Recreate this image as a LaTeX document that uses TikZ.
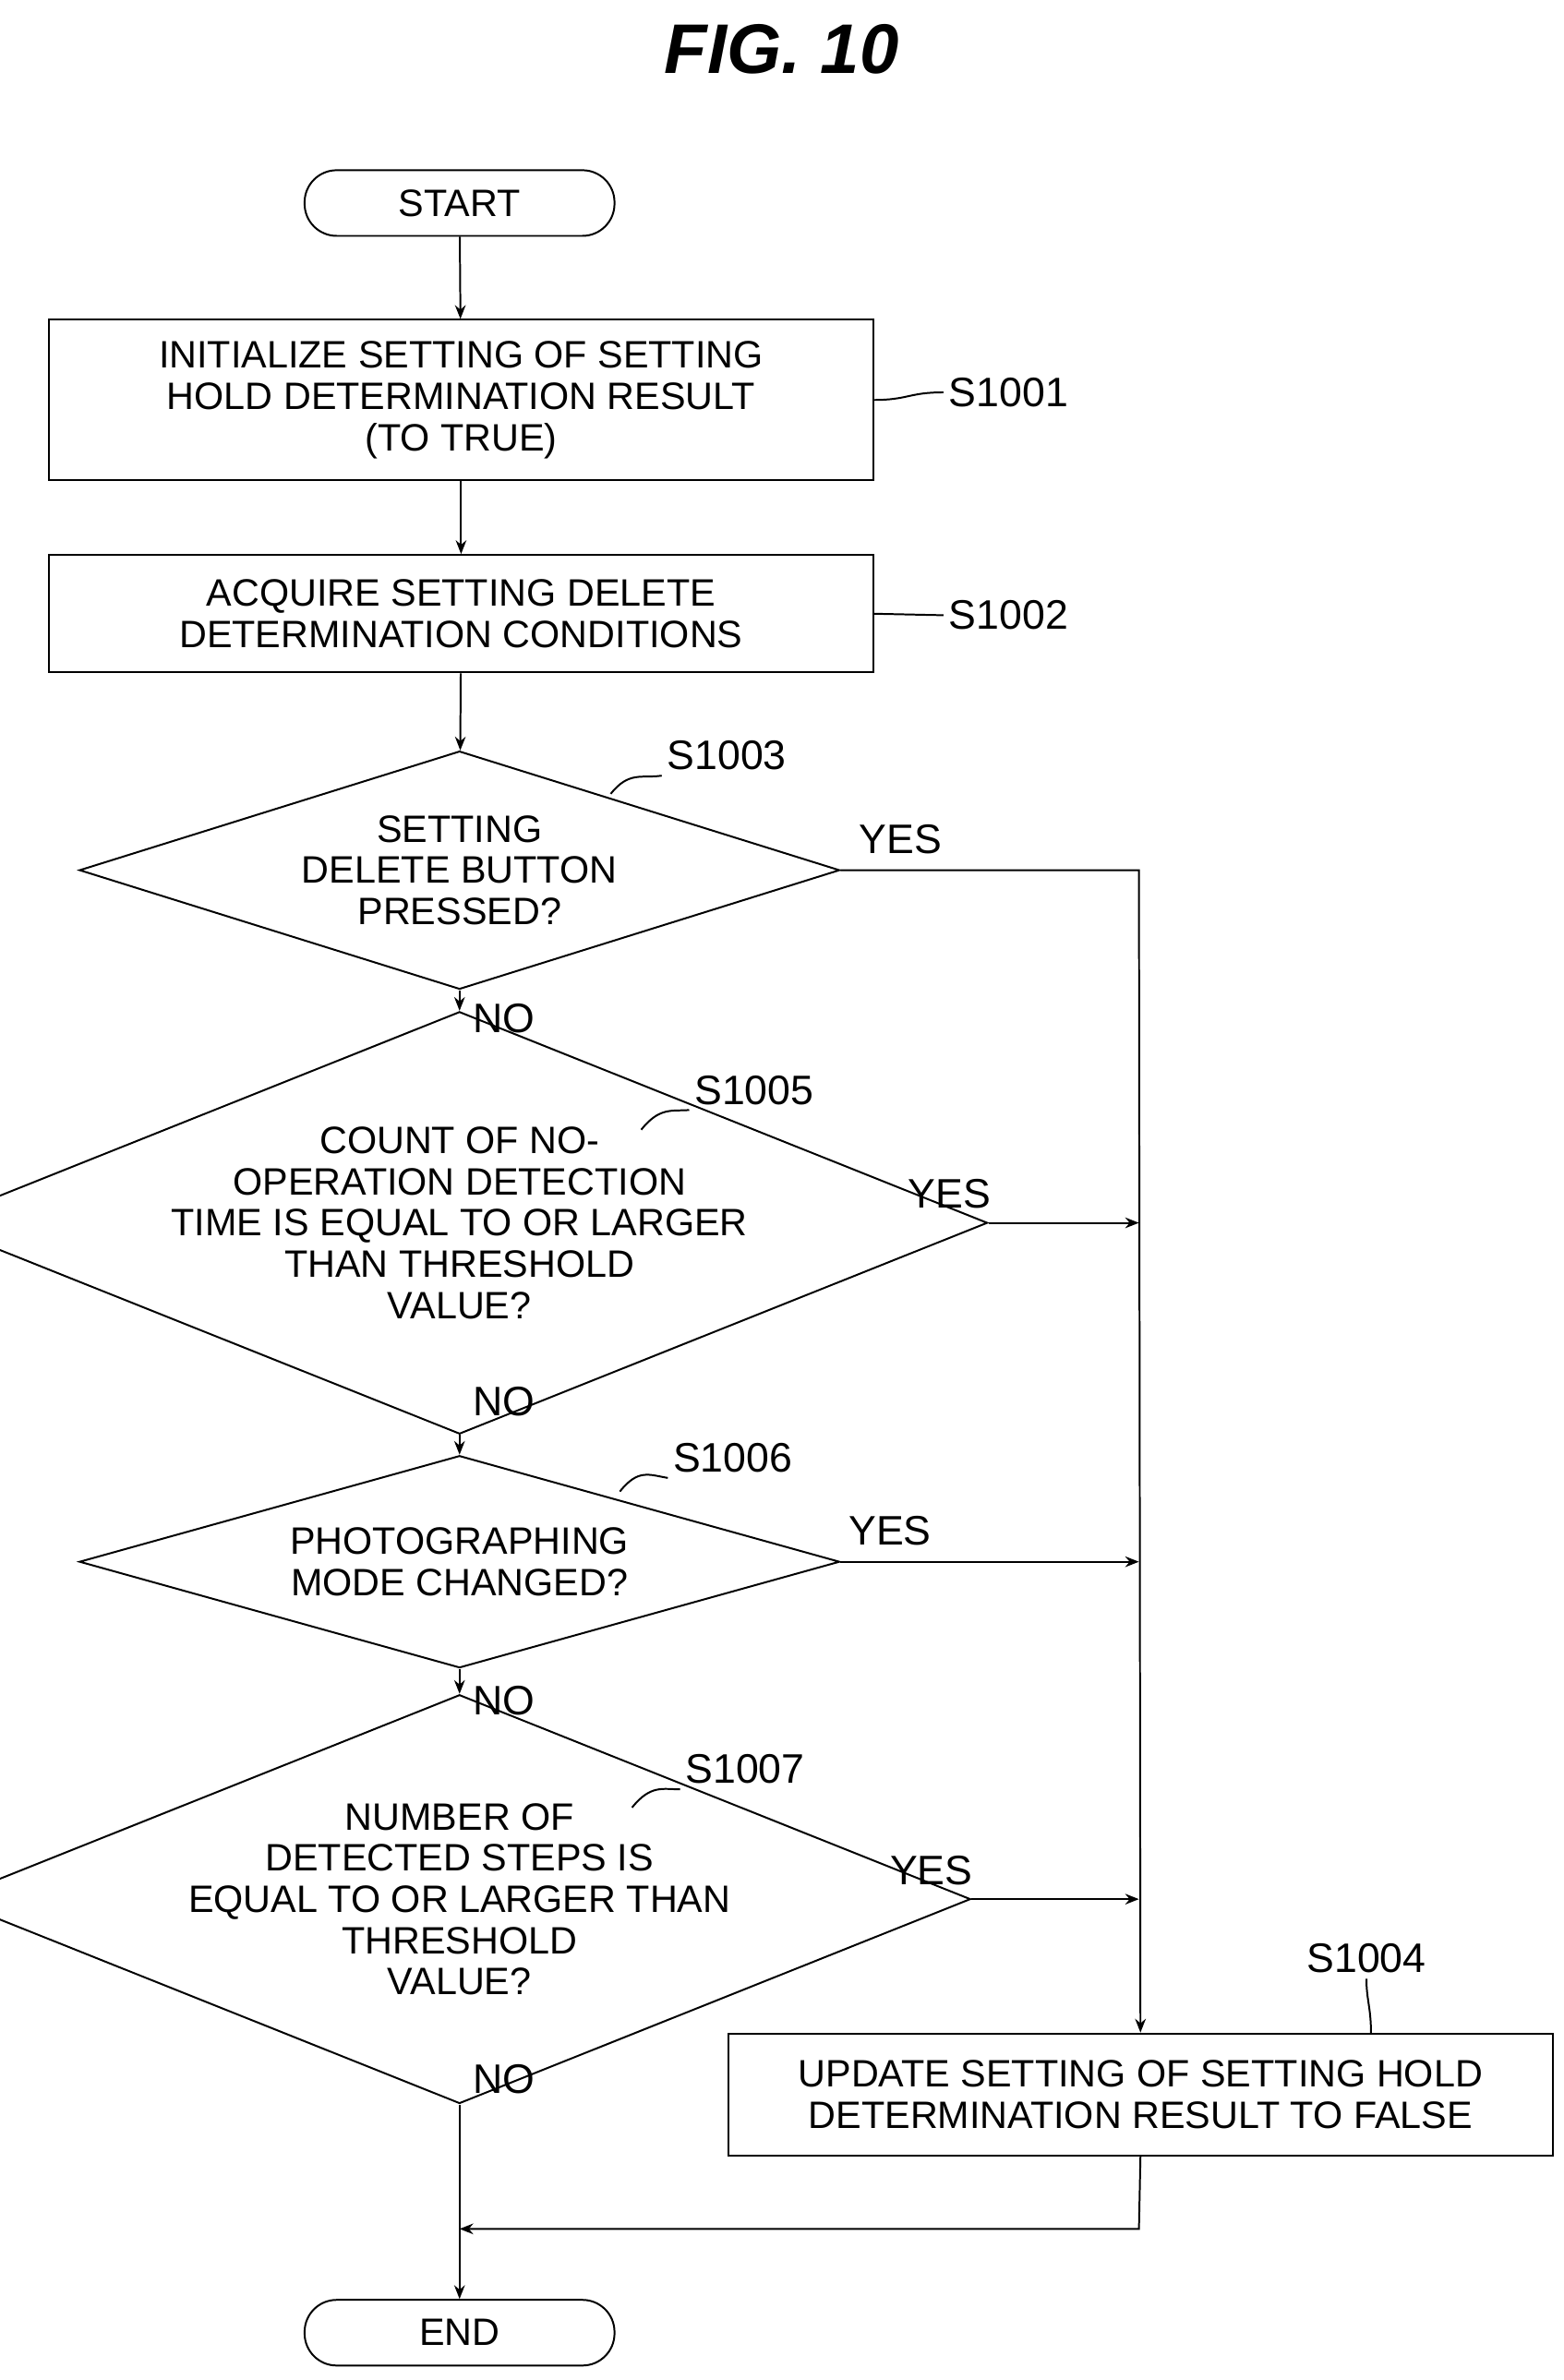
\documentclass[tikz,border=0pt]{standalone}
\usepackage{fontspec}
\setmainfont{Liberation Sans}
\usetikzlibrary{shapes.geometric,arrows.meta}
\begin{document}
\begin{tikzpicture}[x=1pt,y=-1pt,
  every node/.style={font=\fontsize{25}{27}\selectfont},
  box/.style={draw,line width=1.2pt,inner sep=0pt},
  term/.style={draw,line width=1.2pt,rounded corners=21pt,minimum width=203pt,minimum height=43pt},
  dia/.style={draw,line width=1.2pt,diamond,aspect=2.5,inner sep=0pt,align=center},
  ln/.style={line width=1.2pt},
  arr/.style={ln,-{Stealth[length=9pt,width=7pt]}},
  lab/.style={font=\fontsize{27}{29}\selectfont}]
\useasboundingbox (0,0) rectangle (1024,1559);
\node[font=\fontsize{46}{48}\selectfont\bfseries\itshape\rmfamily] (title) at (512,32) {FIG. 10};
\node[term] (start) at (301,133) {START};
\node[box,minimum width=540pt,minimum height=105pt,align=center] (s1) at (302,262) {INITIALIZE SETTING OF SETTING\\HOLD DETERMINATION RESULT\\(TO TRUE)};
\node[box,minimum width=540pt,minimum height=77pt,align=center] (s2) at (302,402) {ACQUIRE SETTING DELETE\\DETERMINATION CONDITIONS};
\node[dia,minimum width=498pt,minimum height=156pt] (d3) at (301,570) {SETTING\\DELETE BUTTON\\PRESSED?};
\node[dia,minimum width=578pt,minimum height=198pt] (d5) at (301,801) {COUNT OF NO-\\OPERATION DETECTION\\TIME IS EQUAL TO OR LARGER\\THAN THRESHOLD\\VALUE?};
\node[dia,minimum width=498pt,minimum height=139pt] (d6) at (301,1023) {PHOTOGRAPHING\\MODE CHANGED?};
\node[dia,minimum width=549pt,minimum height=195pt] (d7) at (301,1244) {NUMBER OF\\DETECTED STEPS IS\\EQUAL TO OR LARGER THAN\\THRESHOLD\\VALUE?};
\node[box,minimum width=540pt,minimum height=80pt,align=center] (s4) at (747,1372) {UPDATE SETTING OF SETTING HOLD\\DETERMINATION RESULT TO FALSE};
\node[term] (end) at (301,1528) {END};
\draw[arr] (start) -- (s1);
\draw[arr] (s1) -- (s2);
\draw[arr] (s2) -- (d3);
\draw[arr] (d3) -- (d5);
\draw[arr] (d5) -- (d6);
\draw[arr] (d6) -- (d7);
\draw[arr] (d7) -- (end);
\coordinate (c1) at (746,570);
\coordinate (c2) at (746,1460);
\coordinate (c3) at (301,1460);
\draw[arr] (d3.east) -- (c1) -- (s4.north);
\draw[arr] (d5.east) -- (d5.east -| c1);
\draw[arr] (d6.east) -- (d6.east -| c1);
\draw[arr] (d7.east) -- (d7.east -| c1);
\draw[arr] (s4.south) -- (c2) -- (c3);
\node[lab] (y3) at (590,550) {YES};
\node[lab] (y5) at (622,782) {YES};
\node[lab] (y6) at (583,1003) {YES};
\node[lab] (y7) at (610,1225) {YES};
\node[lab] (n3) at (330,667) {NO};
\node[lab] (n5) at (330,918) {NO};
\node[lab] (n6) at (330,1114) {NO};
\node[lab] (n7) at (330,1362) {NO};
\node[lab,anchor=west] (l1) at (618,257) {S1001};
\node[lab,anchor=west] (l2) at (618,403) {S1002};
\node[lab] (l3) at (476,495) {S1003};
\node[lab] (l5) at (494,714) {S1005};
\node[lab] (l6) at (480,955) {S1006};
\node[lab] (l7) at (488,1159) {S1007};
\node[lab] (l4) at (895,1283) {S1004};
\draw[ln] (572,262) .. controls (595,262) and (595,257) .. (l1.west);
\draw[ln] (572,402) .. controls (595,402) and (595,403) .. (l2.west);
\draw[ln] (400,520) .. controls (412,505) and (420,510) .. (l3.south west);
\draw[ln] (420,740) .. controls (432,725) and (440,728) .. (l5.south west);
\draw[ln] (406,977) .. controls (418,962) and (425,966) .. (l6.south west);
\draw[ln] (414,1184) .. controls (426,1169) and (434,1172) .. (l7.south west);
\draw[ln] (898,1332) .. controls (898,1315) and (895,1310) .. (l4.south);
\end{tikzpicture}
\end{document}
